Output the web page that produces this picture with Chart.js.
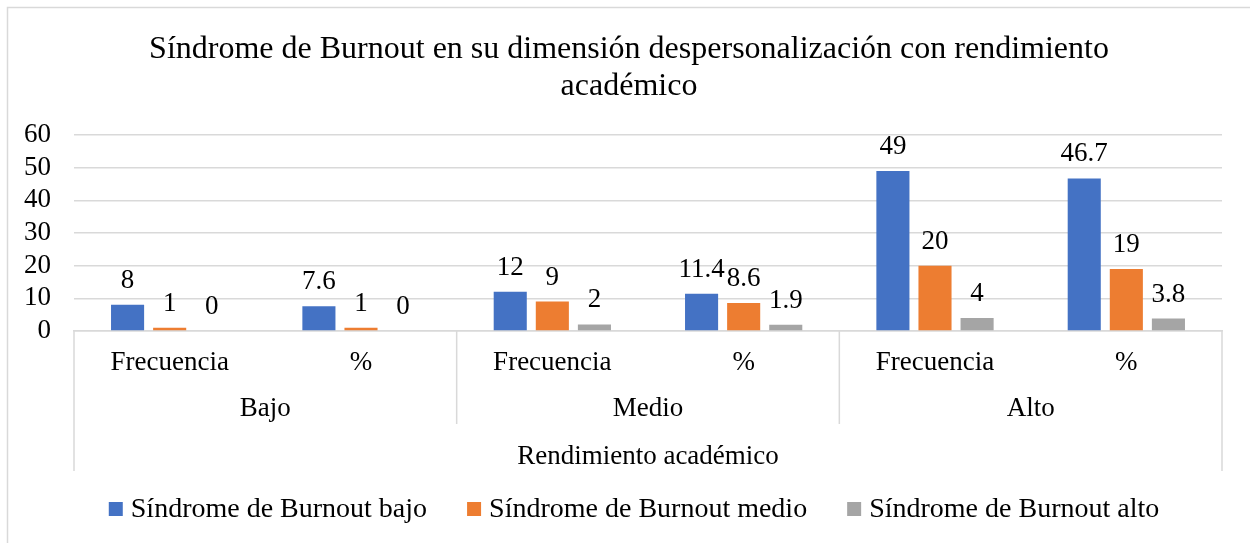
<!DOCTYPE html>
<html>
<head>
<meta charset="utf-8">
<script src="https://cdn.jsdelivr.net/npm/chart.js@4.4.1/dist/chart.umd.min.js"></script>
<style>
  html, body { margin: 0; padding: 0; background: #fff; }
  #wrap { width: 1250px; height: 543px; position: relative; }
</style>
</head>
<body>
<div id="wrap"><canvas id="burnoutChart"></canvas></div>
<script>
// datos
const chartTitle = ["Síndrome de Burnout en su dimensión despersonalización con rendimiento", "académico"];
const subLabels = ["Frecuencia", "%", "Frecuencia", "%", "Frecuencia", "%"];
const groupLabels = ["Bajo", "Medio", "Alto"];
const axisTitle = "Rendimiento académico";
const seriesNames = ["Síndrome de Burnout bajo", "Síndrome de Burnout medio", "Síndrome de Burnout alto"];
const burnoutBajo = [8, 7.6, 12, 11.4, 49, 46.7];
const burnoutMedio = [1, 1, 9, 8.6, 20, 19];
const burnoutAlto = [0, 0, 2, 1.9, 4, 3.8];
const yTicks = [0, 10, 20, 30, 40, 50, 60];
const colors = ["#4472C4", "#ED7D31", "#A5A5A5"];

const FONT = "'Liberation Serif', 'Times New Roman', serif";
const GRID = "#d9d9d9";

const extras = {
  id: "extras",
  afterDatasetsDraw(chart) {
    const ctx = chart.ctx;
    ctx.save();
    ctx.font = "27px " + FONT;
    ctx.fillStyle = "#000";
    ctx.textAlign = "center";
    ctx.textBaseline = "alphabetic";
    chart.data.datasets.forEach((ds, i) => {
      chart.getDatasetMeta(i).data.forEach((bar, j) => {
        ctx.fillText(String(ds.data[j]), bar.x, bar.y - 17);
      });
    });
    ctx.restore();
  },
  afterDraw(chart) {
    const { ctx, chartArea } = chart;
    const x = chart.scales.x;
    const bottom = chartArea.bottom;
    ctx.save();

    // título (centrado como en el original)
    ctx.fillStyle = "#000";
    ctx.font = "32px " + FONT;
    ctx.textAlign = "center";
    ctx.textBaseline = "alphabetic";
    chartTitle.forEach((line, k) => ctx.fillText(line, 629, 58 + k * 36.5));

    ctx.strokeStyle = GRID;
    ctx.lineWidth = 1.5;

    // separadores verticales del eje de categorías
    const edges = [chartArea.left];
    for (let g = 1; g < groupLabels.length; g++) {
      edges.push((x.getPixelForValue(2 * g - 1) + x.getPixelForValue(2 * g)) / 2);
    }
    edges.push(chartArea.right);
    edges.forEach((ex, k) => {
      const outer = k === 0 || k === edges.length - 1;
      ctx.beginPath();
      ctx.moveTo(ex, bottom);
      ctx.lineTo(ex, bottom + (outer ? 140 : 93));
      ctx.stroke();
    });

    ctx.font = "27px " + FONT;
    groupLabels.forEach((lbl, g) => {
      ctx.fillText(lbl, (edges[g] + edges[g + 1]) / 2, bottom + 85);
    });
    ctx.fillText(axisTitle, (chartArea.left + chartArea.right) / 2, bottom + 133);

    // leyenda
    ctx.font = "28px " + FONT;
    const box = 14, gapText = 8, gapItem = 40;
    const widths = chart.data.datasets.map(ds => box + gapText + ctx.measureText(ds.label).width);
    const total = widths.reduce((a, b) => a + b, 0) + gapItem * (widths.length - 1);
    let lx = 634 - total / 2;
    const ly = 517;
    ctx.textAlign = "left";
    chart.data.datasets.forEach((ds, i) => {
      ctx.fillStyle = ds.backgroundColor;
      ctx.fillRect(lx, ly - 15, box, box);
      ctx.fillStyle = "#000";
      ctx.fillText(ds.label, lx + box + gapText, ly);
      lx += widths[i] + gapItem;
    });

    // borde exterior (recortado a la derecha y abajo)
    ctx.strokeStyle = GRID;
    ctx.lineWidth = 1.5;
    ctx.strokeRect(7.5, 7.5, 1300, 600);
    ctx.restore();
  }
};

new Chart(document.getElementById("burnoutChart"), {
  type: "bar",
  data: {
    labels: subLabels,
    datasets: [burnoutBajo, burnoutMedio, burnoutAlto].map((vals, i) => ({
      label: seriesNames[i],
      data: vals,
      backgroundColor: colors[i],
      categoryPercentage: 0.66,
      barPercentage: 0.786
    }))
  },
  options: {
    responsive: true,
    maintainAspectRatio: false,
    animation: false,
    layout: { padding: { left: 8, right: 28, top: 135, bottom: 73 } },
    plugins: {
      legend: { display: false },
      tooltip: { enabled: false },
      title: { display: false }
    },
    scales: {
      x: {
        grid: { display: false, drawTicks: false },
        border: { display: true, color: GRID, width: 1.5 },
        ticks: { color: "#000", font: { family: FONT, size: 27 }, padding: 16, maxRotation: 0 },
        afterFit(scale) { scale.height = 139; }
      },
      y: {
        min: yTicks[0],
        max: yTicks[yTicks.length - 1],
        afterBuildTicks(scale) { scale.ticks = yTicks.map(v => ({ value: v })); },
        grid: { color: GRID, lineWidth: 1.5, drawTicks: false },
        border: { display: false },
        ticks: { color: "#000", font: { family: FONT, size: 27 }, padding: 23, autoSkip: false },
        afterFit(scale) { scale.width = 66; }
      }
    }
  },
  plugins: [extras]
});
</script>
</body>
</html>
